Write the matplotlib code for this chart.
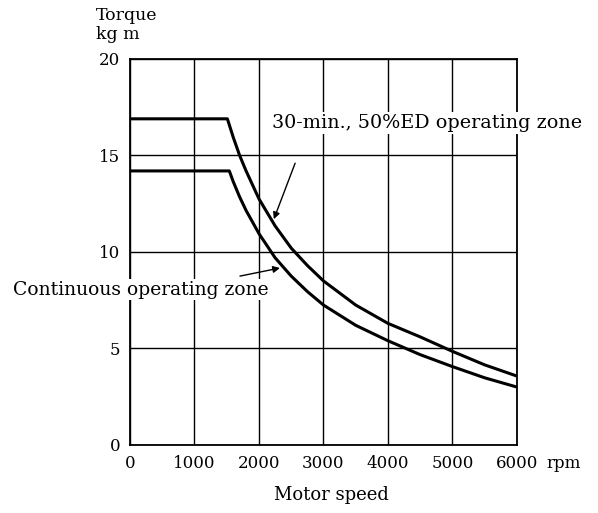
import numpy as np
import matplotlib.pyplot as plt

plt.rcParams['font.family'] = ['DejaVu Serif']

# 30-min., 50%ED operating zone
speed_30min = [0, 1510, 1600, 1700, 1800, 2000, 2250, 2500, 2750, 3000, 3500, 4000, 4500, 5000, 5500, 6000]
torque_30min = [16.9, 16.9, 15.95, 15.0, 14.2, 12.75, 11.35, 10.2, 9.3, 8.5, 7.25, 6.3, 5.6, 4.85, 4.15, 3.57]

# Continuous operating zone
speed_cont = [0, 1540, 1600, 1700, 1800, 2000, 2250, 2500, 2750, 3000, 3500, 4000, 4500, 5000, 5500, 6000]
torque_cont = [14.2, 14.2, 13.65, 12.85, 12.15, 10.95, 9.7, 8.75, 7.95, 7.25, 6.2, 5.4, 4.68, 4.06, 3.48, 3.0]

x_ticks = [0, 1000, 2000, 3000, 4000, 5000, 6000]
y_ticks = [0, 5, 10, 15, 20]

fig = plt.figure(figsize=(5.98, 5.13), dpi=100)
ax = fig.add_axes([0.2174, 0.1326, 0.6471, 0.7524])

ax.plot(speed_30min, torque_30min, color='black', lw=2.2)
ax.plot(speed_cont, torque_cont, color='black', lw=2.2)

ax.set_xlim(0, 6000)
ax.set_ylim(0, 20)
ax.set_xticks(x_ticks)
ax.set_yticks(y_ticks)
ax.tick_params(length=0, labelsize=12, pad=7)
ax.grid(True, color='black', lw=1.0)
for s in ax.spines.values():
    s.set_linewidth(1.3)

# labels
fig.text(96 / 598, 1 - 16 / 513, 'Torque', fontsize=12.5, va='center', ha='left')
fig.text(96 / 598, 1 - 35 / 513, 'kg m', fontsize=12.5, va='center', ha='left')
fig.text(546 / 598, 1 - 463 / 513, 'rpm', fontsize=12, va='center', ha='left')
fig.text(331 / 598, 1 - 495 / 513, 'Motor speed', fontsize=13, va='center', ha='center')

# annotations
ax.text(2200, 16.7, '30-min., 50%ED operating zone', fontsize=13.8, ha='left', va='center',
        clip_on=False, bbox=dict(boxstyle='square,pad=0.1', fc='white', ec='none'))
ax.annotate('', xy=(2230, 11.7), xytext=(2560, 14.6),
            arrowprops=dict(arrowstyle='-|>', color='black', lw=1.0, shrinkA=0, shrinkB=0,
                            mutation_scale=10))
ax.text(-1815, 8.05, 'Continuous operating zone', fontsize=13.5, ha='left', va='center',
        clip_on=False, bbox=dict(boxstyle='square,pad=0.1', fc='white', ec='none'))
ax.annotate('', xy=(2325, 9.17), xytext=(1705, 8.75),
            arrowprops=dict(arrowstyle='-|>', color='black', lw=1.0, shrinkA=0, shrinkB=0,
                            mutation_scale=10))

fig.savefig('out.png', dpi=100)
